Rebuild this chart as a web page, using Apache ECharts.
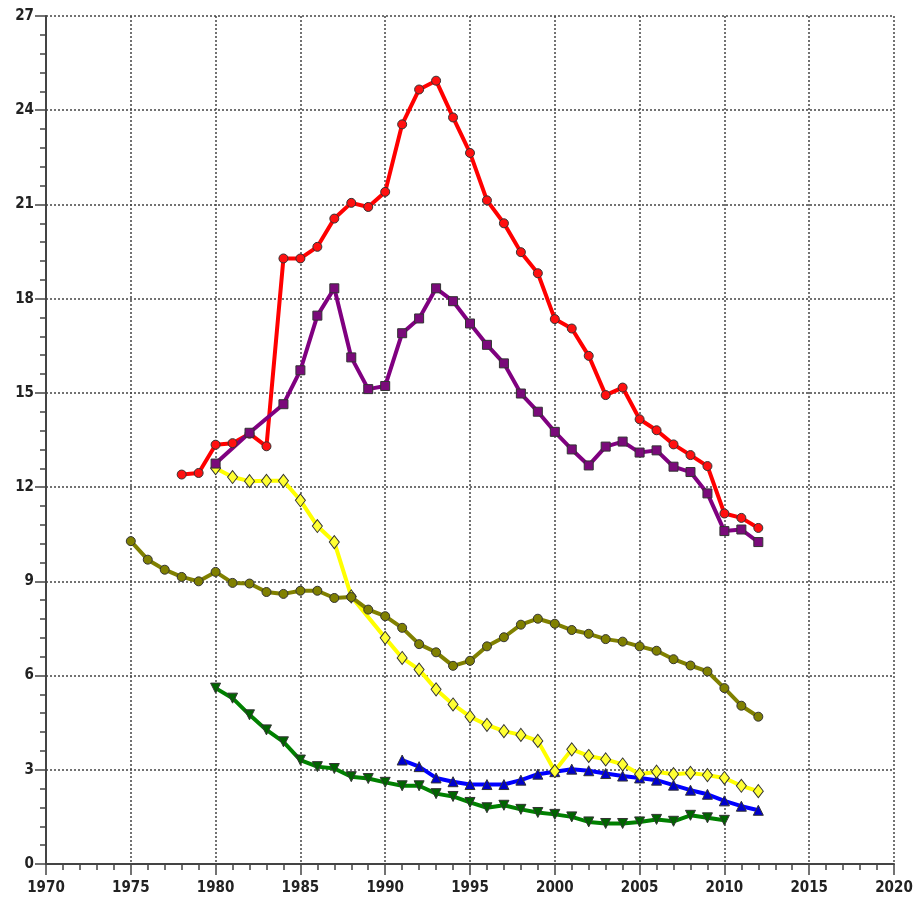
<!DOCTYPE html>
<html><head><meta charset="utf-8">
<script src="https://cdn.jsdelivr.net/npm/echarts@6/dist/echarts.min.js"></script>
<style>html,body{margin:0;padding:0;background:#fff}#c{width:916px;height:897px}</style>
</head><body><div id="c"></div>
<script>
const years = [];
for (let y = 1975; y <= 2012; y++) years.push(y);
// values indexed by year 1975..2012 (null = no point)
const redVals = [null,null,null,12.4,12.45,13.35,13.4,13.7,13.3,19.28,19.28,19.65,20.55,21.05,20.92,21.4,23.55,24.66,24.94,23.77,22.64,21.13,20.4,19.48,18.81,17.35,17.05,16.18,14.93,15.17,14.16,13.81,13.36,13.02,12.67,11.16,11.02,10.7];
const purpleVals = [null,null,null,null,null,12.75,null,13.73,null,14.64,15.72,17.46,18.33,16.13,15.12,15.22,16.9,17.37,18.33,17.92,17.21,16.53,15.94,14.98,14.4,13.76,13.2,12.69,13.29,13.45,13.1,13.17,12.65,12.48,11.8,10.6,10.65,10.25];
const yellowVals = [null,null,null,null,null,12.6,12.32,12.19,12.2,12.2,11.58,10.76,10.25,8.52,null,7.2,6.56,6.19,5.56,5.08,4.69,4.43,4.23,4.11,3.92,2.96,3.65,3.44,3.33,3.17,2.86,2.94,2.86,2.9,2.83,2.74,2.49,2.32];
const oliveVals = [10.28,9.69,9.37,9.14,9.0,9.3,8.95,8.93,8.66,8.6,8.7,8.7,8.47,8.5,8.1,7.89,7.52,7.0,6.74,6.31,6.47,6.93,7.22,7.62,7.81,7.65,7.45,7.33,7.16,7.08,6.93,6.79,6.52,6.32,6.13,5.6,5.04,4.69];
const greenVals = [null,null,null,null,null,5.6,5.28,4.75,4.27,3.89,3.31,3.1,3.04,2.78,2.72,2.6,2.49,2.49,2.24,2.15,1.96,1.79,1.87,1.74,1.64,1.58,1.5,1.34,1.29,1.29,1.34,1.42,1.36,1.55,1.47,1.39,null,null];
const blueVals = [null,null,null,null,null,null,null,null,null,null,null,null,null,null,null,null,3.31,3.1,2.74,2.62,2.53,2.53,2.53,2.67,2.86,2.94,3.02,2.97,2.88,2.8,2.74,2.67,2.51,2.35,2.22,2.01,1.84,1.71];

function pairs(vals){ return years.map((y,i)=>[y, vals[i]]).filter(p=>p[1]!==null); }

const font = "'DejaVu Sans Condensed','Liberation Sans Narrow',sans-serif";
function mk(name, vals, color, symbol, size, fill, lw){
  return {
    name, type:'line', data: pairs(vals), symbol, symbolSize:size,
    lineStyle:{color, width: lw||4},
    itemStyle:{color: fill||color, borderColor:'#333', borderWidth:1},
    emphasis:{disabled:true}, animation:false
  };
}
const axisCommon = {
  axisLine:{show:true, lineStyle:{color:'#444', width:2}},
  axisTick:{show:true, length:11, lineStyle:{color:'#444', width:1.5}},
  minorTick:{show:true, splitNumber:5, length:6, lineStyle:{color:'#444', width:1.5}},
  splitLine:{show:true, lineStyle:{color:'#444', type:[2,2], width:1.5}}
};
const chart = echarts.init(document.getElementById('c'));
chart.setOption({
  animation:false,
  grid:{left:46, right:22, top:16, bottom:33},
  xAxis:Object.assign({type:'value', min:1970, max:2020, interval:5,
    axisLabel:{color:'#222', fontFamily:font, fontWeight:'bold', fontSize:15, margin:17, formatter:v=>String(v)}
  }, axisCommon),
  yAxis:Object.assign({type:'value', min:0, max:27, interval:3,
    axisLabel:{color:'#222', fontFamily:font, fontWeight:'bold', fontSize:15, margin:12}
  }, axisCommon),
  series:[
    Object.assign(mk('green', greenVals, '#008000', 'triangle', 10, '#006400'), {symbolRotate:180}),
    mk('blue', blueVals, '#0000ff', 'triangle', 10, '#0000cc'),
    Object.assign(mk('yellow', yellowVals, '#ffff00', 'diamond', [10,13], '#ffff33'), {connectNulls:true}),
    mk('olive', oliveVals, '#808000', 'circle', 9, '#808000'),
    mk('red', redVals, '#ff0000', 'circle', 9, '#ff1010'),
    Object.assign(mk('purple', purpleVals, '#800080', 'rect', 9, '#7a0a7a'), {connectNulls:true})
  ]
});
</script></body></html>
